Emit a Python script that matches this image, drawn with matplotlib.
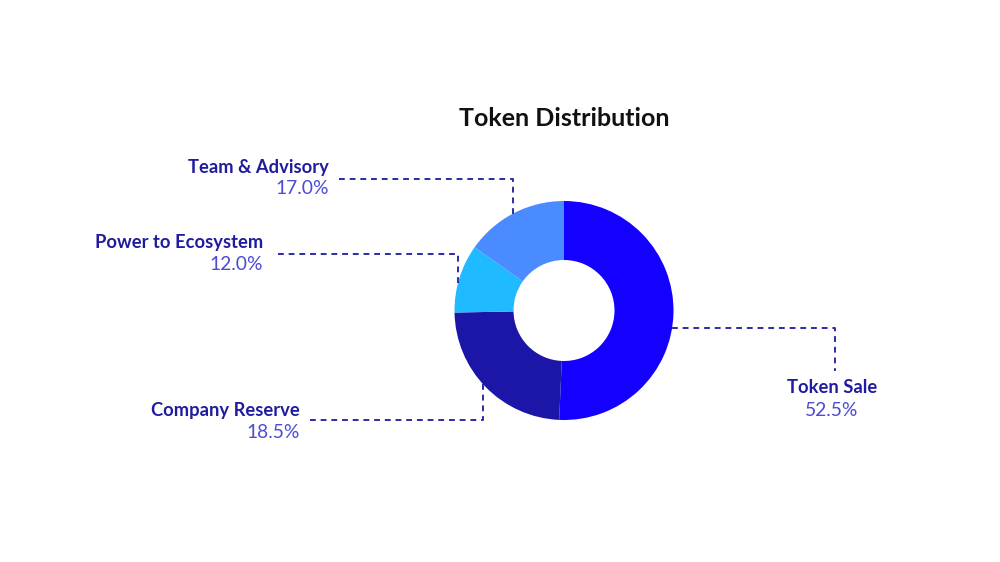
import numpy as np
import matplotlib
matplotlib.use("Agg")
import matplotlib.pyplot as plt

categories = ["Token Sale", "Company Reserve", "Power to Ecosystem", "Team & Advisory"]
# slice sizes as drawn in the picture (degrees-based estimate, in %)
slice_values = [50.7, 24.0, 10.1, 15.2]
# percentages printed on the labels
label_percents = [52.5, 18.5, 12.0, 17.0]
colors = ["#1400ff", "#1c16a8", "#1fbaff", "#4a8cff"]
title = "Token Distribution"

W, H = 1000, 562
fig = plt.figure(figsize=(10, 5.62), dpi=100)
ax = fig.add_axes([0, 0, 1, 1])

cx, cy_img = 564, 310.5
cy = H - cy_img
R, r_in = 109.5, 50.5

ax.pie(slice_values, colors=colors, startangle=90, counterclock=False,
       center=(cx, cy), radius=R, wedgeprops=dict(width=R - r_in, linewidth=0),
       frame=True)
ax.set_xlim(0, W)
ax.set_ylim(0, H)
ax.set_aspect("equal")
ax.axis("off")

name_color = "#201c9e"
pct_color = "#4b4bd6"
line_color = "#2b2ba8"
font = ["Lato", "DejaVu Sans"]

ax.text(564, H - 119, title, ha="center", va="center", fontsize=18,
        fontweight="bold", color="#111111", family=font)

def Y(y):
    return H - y

def edge_y(x, upper=True):
    d = np.sqrt(max(R**2 - (x - cx)**2, 0))
    return cy + d if upper else cy - d

def edge_x(y_img, right=True):
    d = np.sqrt(max(R**2 - (y_img - cy_img)**2, 0))
    return cx + d if right else cx - d

dash = dict(color=line_color, lw=1.4, ls=(0, (3, 2.5)))

# label layout: (text x, name y, pct y, ha)
layout = {
    "Team & Advisory": (329, 167.5, 189, "right"),
    "Power to Ecosystem": (263, 242.5, 264, "right"),
    "Company Reserve": (300, 410.5, 432, "right"),
    "Token Sale": (832, 387.5, 410, "center"),
}

for cat, p in zip(categories, label_percents):
    x, yn, yp, ha = layout[cat]
    ax.text(x, Y(yn), cat, ha=ha, va="center", fontsize=13.2, fontweight="bold",
            color=name_color, family=font)
    ax.text(x, Y(yp), f"{p:.1f}%", ha=ha, va="center", fontsize=13.9,
            color=pct_color, family=font)

# connector lines
# Team & Advisory
lx = 513; ly = 179
ax.plot([lx, lx, 338], [edge_y(lx, True), Y(ly), Y(ly)], **dash)
# Power to Ecosystem
lx = 458; ly = 254
ax.plot([lx, lx, 273], [edge_y(lx, True), Y(ly), Y(ly)], **dash)
# Company Reserve
lx = 483; ly = 420
ax.plot([lx, lx, 310], [edge_y(lx, False), Y(ly), Y(ly)], **dash)
# Token Sale
ly = 328; ex = 835
ax.plot([edge_x(ly, True), ex, ex], [Y(ly), Y(ly), Y(371)], **dash)

fig.savefig("out.png", dpi=100, facecolor="white")
